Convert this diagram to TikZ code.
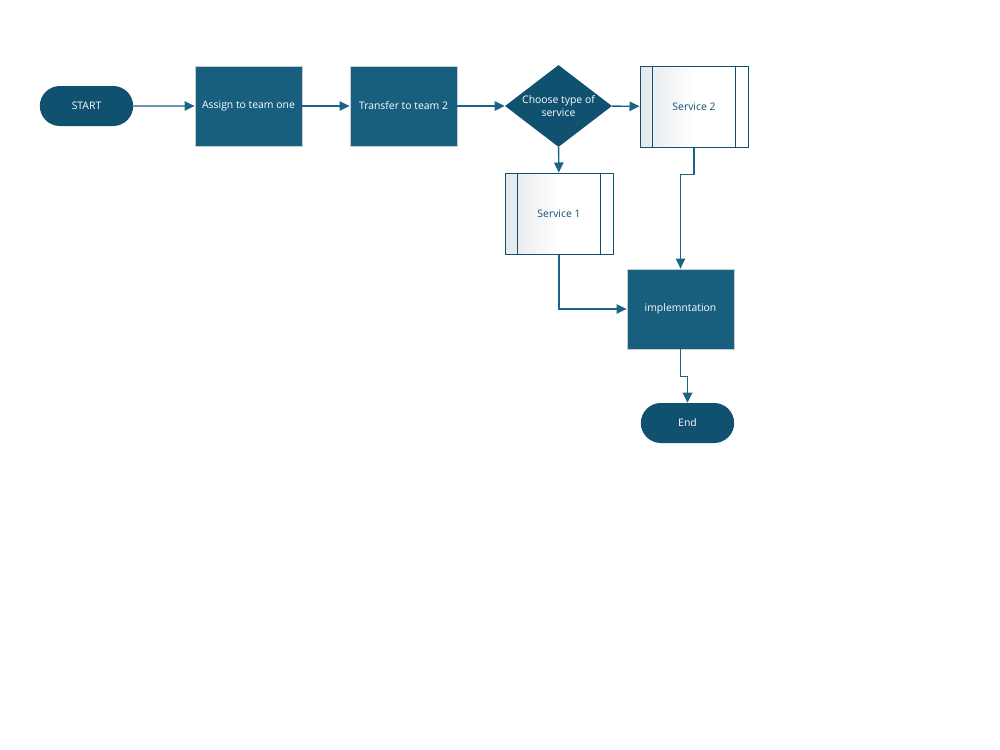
\documentclass[tikz,border=0pt]{standalone}
\usepackage{fontspec}
\setmainfont{Open Sans}
\usetikzlibrary{shapes.geometric,shapes.misc,arrows.meta,positioning}
\definecolor{boxblue}{HTML}{175E7F}
\definecolor{darkblue}{HTML}{115170}
\definecolor{lineblue}{HTML}{1B6388}
\definecolor{edgegray}{HTML}{C8CDD2}
\definecolor{svcgray}{HTML}{E4E7EB}
\begin{document}
\begin{tikzpicture}[x=0.75pt,y=-0.75pt,
  every node/.style={font=\fontsize{7.8}{9.4}\selectfont},
  proc/.style={draw=edgegray,line width=0.6pt,fill=boxblue,text=white,minimum width=80.25pt,minimum height=60pt,inner sep=0pt},
  term/.style={draw=none,fill=darkblue,text=white,rounded rectangle,minimum width=70pt,minimum height=30pt,inner sep=0pt},
  dec/.style={draw=none,fill=darkblue,text=white,diamond,aspect=1.35,minimum width=80.25pt,minimum height=61.5pt,inner sep=-1pt,align=center},
  svc/.style={draw=darkblue,line width=0.75pt,left color=svcgray,right color=white,middle color=white,text=darkblue,minimum width=81pt,minimum height=60.75pt,inner sep=0pt},
  conn/.style={draw=lineblue,line width=1.1pt,-{Triangle[length=7.5pt,width=7pt]}}
]
\useasboundingbox (0,0) rectangle (1000,750);
\node[term] (start) at (86.5,106) {START};
\node[proc] (assign) at (248.5,106) {Assign to team one};
\node[proc] (transfer) at (403.5,106) {Transfer to team 2};
\node[dec] (choose) at (558.5,106) {Choose type of\\service};
\node[svc] (s2) at (694,106.5) {Service 2};
\draw[darkblue,line width=0.75pt] ([xshift=9.75pt]s2.north west) -- ([xshift=9.75pt]s2.south west);
\draw[darkblue,line width=0.75pt] ([xshift=-9.75pt]s2.north east) -- ([xshift=-9.75pt]s2.south east);
\node[svc] (s1) at (559,213.5) {Service 1};
\draw[darkblue,line width=0.75pt] ([xshift=9.75pt]s1.north west) -- ([xshift=9.75pt]s1.south west);
\draw[darkblue,line width=0.75pt] ([xshift=-9.75pt]s1.north east) -- ([xshift=-9.75pt]s1.south east);
\node[proc] (impl) at (680.5,309) {implemntation};
\node[term] (end) at (687.5,423) {End};

\draw[conn] (start) -- (assign);
\draw[conn] (assign) -- (transfer);
\draw[conn] (transfer) -- (choose);
\draw[conn] (choose) -- (s2);
\draw[conn] (choose) -- (s1);
\draw[conn] (s2.south) |- ++(0,27) coordinate (k1) -| (impl.north);
\draw[conn] (s1.south) |- (impl.west);
\draw[conn] (impl.south) |- ++(0,27) coordinate (k2) -| (end.north);
\end{tikzpicture}
\end{document}
